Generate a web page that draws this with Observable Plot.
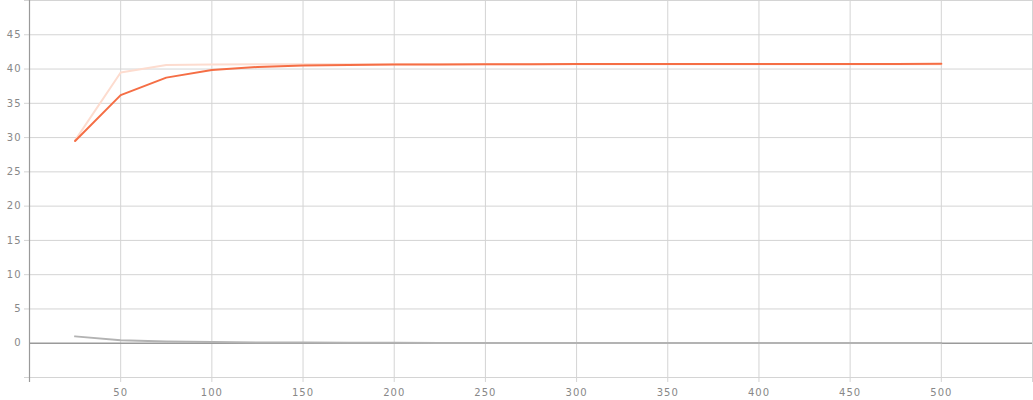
<!DOCTYPE html>
<html>
<head>
<meta charset="utf-8">
<script src="https://cdn.jsdelivr.net/npm/d3@7"></script>
<script src="https://cdn.jsdelivr.net/npm/@observablehq/plot@0.6"></script>
<style>
  html, body { margin: 0; padding: 0; background: #fff; }
  svg { display: block; }
</style>
</head>
<body>
<div id="chart"></div>
<script>
const xs = [25, 50, 75, 100, 125, 150, 175, 200, 225, 250, 275, 300, 325, 350, 375, 400, 425, 450, 475, 500];
const mainSeries = [29.5, 36.2, 38.75, 39.85, 40.3, 40.5, 40.6, 40.65, 40.68, 40.7, 40.7, 40.72, 40.74, 40.75, 40.75, 40.75, 40.75, 40.75, 40.75, 40.77];
const paleSeries = [29.6, 39.5, 40.6, 40.68, 40.7, 40.7, 40.7, 40.7, 40.7, 40.7, 40.7, 40.7, 40.7, 40.7, 40.7, 40.7, 40.7, 40.7, 40.7, 40.7];
const graySeries = [1.0, 0.45, 0.27, 0.17, 0.12, 0.09, 0.07, 0.06, 0.05, 0.05, 0.04, 0.04, 0.04, 0.03, 0.03, 0.03, 0.03, 0.03, 0.03, 0.03];
const xTicks = [50, 100, 150, 200, 250, 300, 350, 400, 450, 500];
const xGrid = [50, 100, 150, 200, 250, 300, 350, 400, 450, 500, 550];
const yTicks = [0, 5, 10, 15, 20, 25, 30, 35, 40, 45];
const yGrid = [-5, 5, 10, 15, 20, 25, 30, 35, 40, 45, 50];

const toRows = (vals) => xs.map((x, i) => ({x, y: vals[i]}));

const font = "DejaVu Sans, sans-serif";
const chart = Plot.plot({
  width: 1033,
  height: 400,
  marginLeft: 29,
  marginRight: 1,
  marginTop: 0,
  marginBottom: 23,
  x: {domain: [0, 550], axis: null},
  y: {domain: [-5, 50], axis: null},
  style: {fontFamily: font, background: "#fff", overflow: "visible"},
  marks: [
    Plot.ruleY(yGrid, {stroke: "#d4d4d4", strokeWidth: 1, insetLeft: -5}),
    Plot.ruleX(xGrid, {stroke: "#d4d4d4", strokeWidth: 1, insetBottom: -5}),
    Plot.ruleX([0], {stroke: "#9a9a9a", strokeWidth: 1.2, insetBottom: -5}),
    Plot.ruleY([0], {stroke: "#9a9a9a", strokeWidth: 1.5}),
    Plot.line(toRows(graySeries), {x: "x", y: "y", stroke: "#b3b3b3", strokeWidth: 2}),
    Plot.line(toRows(paleSeries), {x: "x", y: "y", stroke: "#fddccf", strokeWidth: 2}),
    Plot.line(toRows(mainSeries), {x: "x", y: "y", stroke: "#f56e45", strokeWidth: 2}),
    Plot.text(yTicks, {x: 0, y: d => d, text: d => String(d), textAnchor: "end", dx: -8, fill: "#888888", fontSize: 10, fontFamily: font}),
    Plot.text(xTicks, {x: d => d, y: -5, text: d => String(d), dy: 15, fill: "#888888", fontSize: 10, fontFamily: font})
  ]
});
chart.querySelectorAll("text").forEach(t => t.setAttribute("letter-spacing", "1"));
document.getElementById("chart").appendChild(chart);
</script>
</body>
</html>
